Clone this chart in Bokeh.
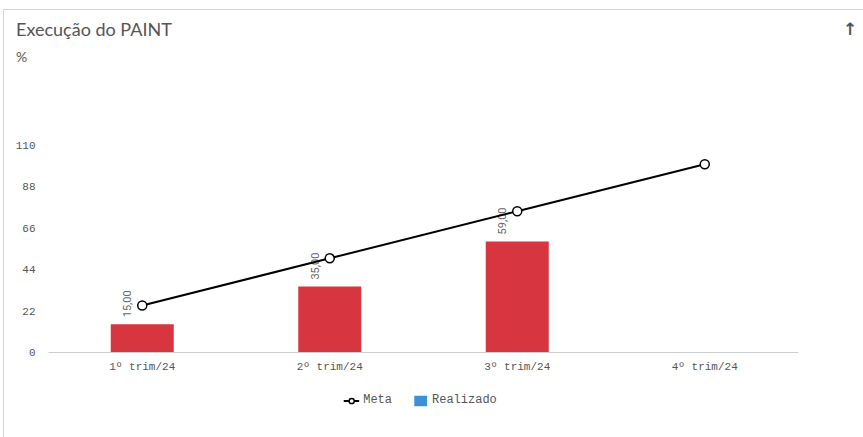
import math
from bokeh.plotting import figure
from bokeh.layouts import column
from bokeh.models import (ColumnDataSource, FactorRange, Range1d, FixedTicker, Legend, LegendItem, Div)
from bokeh.core.properties import value
from bokeh.embed import file_html
from bokeh.resources import INLINE

# ---- data ----
categories = ["1º trim/24", "2º trim/24", "3º trim/24", "4º trim/24"]
realizado = [15, 35, 59]
realizado_cats = categories[:3]
realizado_labels = ["15,00", "35,00", "59,00"]
meta = [25, 50, 75, 100]
y_ticks = [0, 22, 44, 66, 88, 110]
series_names = ["Meta", "Realizado"]

title_text = "Execução do PAINT"
unit_text = "%"

header = Div(width=859, height=60, text=(
    '<div style="position:relative;width:859px;height:60px;font-family:Lato;color:#555555;">'
    f'<span style="position:absolute;left:7px;top:2px;font-size:18px;">{title_text}</span>'
    f'<span style="position:absolute;left:7px;top:32px;font-size:14px;">{unit_text}</span>'
    '<span style="position:absolute;left:834px;top:2px;font-size:17px;font-weight:bold;font-family:\'DejaVu Sans\';">&#8593;</span>'
    '</div>'))

p = figure(frame_width=750, frame_height=226, x_range=FactorRange(*categories), y_range=Range1d(0, 120),
           output_backend="svg", toolbar_location=None,
           min_border_left=44, min_border_right=65, min_border_top=46, min_border_bottom=30)
p.outline_line_color = None
p.background_fill_color = "white"
p.border_fill_color = "white"
p.xgrid.visible = False
p.ygrid.visible = False
p.x_range.range_padding = 0

bar_src = ColumnDataSource(dict(x=realizado_cats, top=realizado, lab=realizado_labels))
p.vbar(x="x", top="top", width=0.336, source=bar_src, fill_color="#d7353f", line_color=None)
p.text(x="x", y="top", text="lab", source=bar_src, angle=math.pi / 2, x_offset=-15, y_offset=-7,
       text_align="left", text_baseline="middle", text_font=value("Roboto"),
       text_font_size="11px", text_color="#666666")

meta_src = ColumnDataSource(dict(x=categories, y=meta))
p.line(x="x", y="y", source=meta_src, line_color="black", line_width=2)
p.scatter(x="x", y="y", source=meta_src, size=9, fill_color="white", line_color="black", line_width=1.5)

# axes
p.yaxis.ticker = FixedTicker(ticks=y_ticks)
p.yaxis.axis_line_color = None
p.yaxis.major_tick_line_color = None
p.yaxis.minor_tick_line_color = None
p.yaxis.major_label_standoff = 7
p.yaxis.major_label_text_font = "Liberation Mono"
p.yaxis.major_label_text_font_size = "11px"
p.yaxis.major_label_text_color = "#555555"

p.xaxis.axis_line_color = "#cccccc"
p.xaxis.axis_line_width = 1
p.xaxis.major_tick_line_color = None
p.xaxis.minor_tick_line_color = None
p.xaxis.major_tick_out = 0
p.xaxis.major_label_standoff = 8
p.xaxis.major_label_text_font = "Liberation Mono"
p.xaxis.major_label_text_font_size = "11px"
p.xaxis.major_label_text_color = "#555555"

# ---- legend strip (separate small figure holding only the legend) ----
lg = figure(frame_width=832, frame_height=36, x_range=Range1d(0, 1), y_range=Range1d(0, 1),
            output_backend="svg", toolbar_location=None,
            min_border_left=0, min_border_right=0, min_border_top=0, min_border_bottom=0)
lg.xaxis.visible = False
lg.yaxis.visible = False
lg.grid.visible = False
lg.outline_line_color = None
# legend-only renderers placed outside the visible range
l_ln = lg.line(x=[5, 6], y=[5, 5], line_color="black", line_width=2)
l_sc = lg.scatter(x=[5.5], y=[5], size=9, fill_color="white", line_color="black", line_width=1.5)
l_bar = lg.vbar(x=[5], top=[6], bottom=[5], width=0.5, fill_color="#3d8fd6", line_color=None)

legend = Legend(items=[LegendItem(label=series_names[0], renderers=[l_ln, l_sc]),
                       LegendItem(label=series_names[1], renderers=[l_bar])],
                orientation="horizontal", location="center",
                label_text_font="Liberation Mono", label_text_font_size="12px",
                label_text_color="#555555", glyph_width=16, glyph_height=13,
                label_standoff=4, spacing=20, padding=0, margin=0,
                border_line_color=None, background_fill_alpha=0)
lg.add_layout(legend)

spacer = Div(width=859, height=25, text="")

layout = column(header, p, lg, spacer, spacing=0)
layout.styles = {"border-left": "1px solid #d4d4d4", "border-top": "1px solid #d4d4d4",
                 "margin-left": "3px", "margin-top": "9px"}

open("out.html", "w").write(file_html(layout, INLINE))
